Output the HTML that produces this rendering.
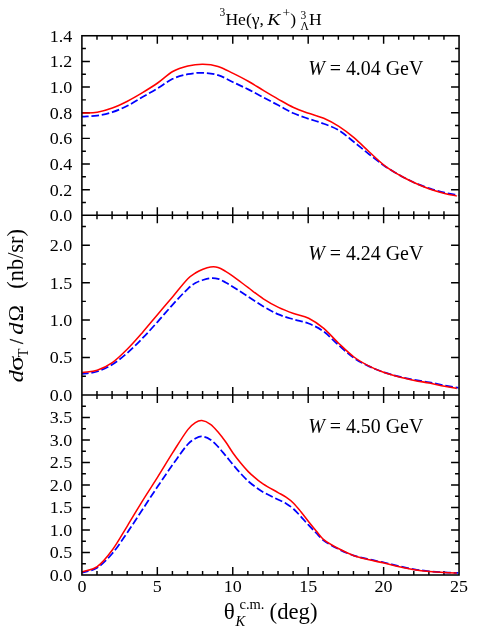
<!DOCTYPE html><html><head><meta charset="utf-8"><style>html,body{margin:0;padding:0;background:#fff}svg{display:block;will-change:transform}text{font-family:"Liberation Serif",serif;fill:#000}</style></head><body>
<svg width="491" height="638" viewBox="0 0 491 638">
<rect width="491" height="638" fill="#fff"/>
<defs><clipPath id="cp"><rect x="81.9" y="35.8" width="376.5" height="539.2"/></clipPath><clipPath id="cr"><rect x="81.9" y="35.8" width="374.9" height="539.2"/></clipPath></defs>
<path d="M96.99,35.75 L96.99,39.75 M112.07,35.75 L112.07,39.75 M127.16,35.75 L127.16,39.75 M142.24,35.75 L142.24,39.75 M157.33,35.75 L157.33,43.75 M172.42,35.75 L172.42,39.75 M187.50,35.75 L187.50,39.75 M202.59,35.75 L202.59,39.75 M217.67,35.75 L217.67,39.75 M232.76,35.75 L232.76,43.75 M247.85,35.75 L247.85,39.75 M262.93,35.75 L262.93,39.75 M278.02,35.75 L278.02,39.75 M293.10,35.75 L293.10,39.75 M308.19,35.75 L308.19,43.75 M323.28,35.75 L323.28,39.75 M338.36,35.75 L338.36,39.75 M353.45,35.75 L353.45,39.75 M368.53,35.75 L368.53,39.75 M383.62,35.75 L383.62,43.75 M398.71,35.75 L398.71,39.75 M413.79,35.75 L413.79,39.75 M428.88,35.75 L428.88,39.75 M443.96,35.75 L443.96,39.75 M96.99,211.30 L96.99,219.30 M112.07,211.30 L112.07,219.30 M127.16,211.30 L127.16,219.30 M142.24,211.30 L142.24,219.30 M157.33,207.30 L157.33,223.30 M172.42,211.30 L172.42,219.30 M187.50,211.30 L187.50,219.30 M202.59,211.30 L202.59,219.30 M217.67,211.30 L217.67,219.30 M232.76,207.30 L232.76,223.30 M247.85,211.30 L247.85,219.30 M262.93,211.30 L262.93,219.30 M278.02,211.30 L278.02,219.30 M293.10,211.30 L293.10,219.30 M308.19,207.30 L308.19,223.30 M323.28,211.30 L323.28,219.30 M338.36,211.30 L338.36,219.30 M353.45,211.30 L353.45,219.30 M368.53,211.30 L368.53,219.30 M383.62,207.30 L383.62,223.30 M398.71,211.30 L398.71,219.30 M413.79,211.30 L413.79,219.30 M428.88,211.30 L428.88,219.30 M443.96,211.30 L443.96,219.30 M96.99,390.90 L96.99,398.90 M112.07,390.90 L112.07,398.90 M127.16,390.90 L127.16,398.90 M142.24,390.90 L142.24,398.90 M157.33,386.90 L157.33,402.90 M172.42,390.90 L172.42,398.90 M187.50,390.90 L187.50,398.90 M202.59,390.90 L202.59,398.90 M217.67,390.90 L217.67,398.90 M232.76,386.90 L232.76,402.90 M247.85,390.90 L247.85,398.90 M262.93,390.90 L262.93,398.90 M278.02,390.90 L278.02,398.90 M293.10,390.90 L293.10,398.90 M308.19,386.90 L308.19,402.90 M323.28,390.90 L323.28,398.90 M338.36,390.90 L338.36,398.90 M353.45,390.90 L353.45,398.90 M368.53,390.90 L368.53,398.90 M383.62,386.90 L383.62,402.90 M398.71,390.90 L398.71,398.90 M413.79,390.90 L413.79,398.90 M428.88,390.90 L428.88,398.90 M443.96,390.90 L443.96,398.90 M96.99,571.00 L96.99,575.00 M112.07,571.00 L112.07,575.00 M127.16,571.00 L127.16,575.00 M142.24,571.00 L142.24,575.00 M157.33,567.00 L157.33,575.00 M172.42,571.00 L172.42,575.00 M187.50,571.00 L187.50,575.00 M202.59,571.00 L202.59,575.00 M217.67,571.00 L217.67,575.00 M232.76,567.00 L232.76,575.00 M247.85,571.00 L247.85,575.00 M262.93,571.00 L262.93,575.00 M278.02,571.00 L278.02,575.00 M293.10,571.00 L293.10,575.00 M308.19,567.00 L308.19,575.00 M323.28,571.00 L323.28,575.00 M338.36,571.00 L338.36,575.00 M353.45,571.00 L353.45,575.00 M368.53,571.00 L368.53,575.00 M383.62,567.00 L383.62,575.00 M398.71,571.00 L398.71,575.00 M413.79,571.00 L413.79,575.00 M428.88,571.00 L428.88,575.00 M443.96,571.00 L443.96,575.00 M81.90,202.48 L85.90,202.48 M459.05,202.48 L455.05,202.48 M81.90,189.65 L89.90,189.65 M459.05,189.65 L451.05,189.65 M81.90,176.82 L85.90,176.82 M459.05,176.82 L455.05,176.82 M81.90,164.00 L89.90,164.00 M459.05,164.00 L451.05,164.00 M81.90,151.18 L85.90,151.18 M459.05,151.18 L455.05,151.18 M81.90,138.35 L89.90,138.35 M459.05,138.35 L451.05,138.35 M81.90,125.52 L85.90,125.52 M459.05,125.52 L455.05,125.52 M81.90,112.70 L89.90,112.70 M459.05,112.70 L451.05,112.70 M81.90,99.87 L85.90,99.87 M459.05,99.87 L455.05,99.87 M81.90,87.05 L89.90,87.05 M459.05,87.05 L451.05,87.05 M81.90,74.22 L85.90,74.22 M459.05,74.22 L455.05,74.22 M81.90,61.40 L89.90,61.40 M459.05,61.40 L451.05,61.40 M81.90,48.57 L85.90,48.57 M459.05,48.57 L455.05,48.57 M81.90,376.19 L85.90,376.19 M459.05,376.19 L455.05,376.19 M81.90,357.48 L89.90,357.48 M459.05,357.48 L451.05,357.48 M81.90,338.77 L85.90,338.77 M459.05,338.77 L455.05,338.77 M81.90,320.07 L89.90,320.07 M459.05,320.07 L451.05,320.07 M81.90,301.36 L85.90,301.36 M459.05,301.36 L455.05,301.36 M81.90,282.65 L89.90,282.65 M459.05,282.65 L451.05,282.65 M81.90,263.94 L85.90,263.94 M459.05,263.94 L455.05,263.94 M81.90,245.23 L89.90,245.23 M459.05,245.23 L451.05,245.23 M81.90,226.52 L85.90,226.52 M459.05,226.52 L455.05,226.52 M81.90,563.74 L85.90,563.74 M459.05,563.74 L455.05,563.74 M81.90,552.49 L89.90,552.49 M459.05,552.49 L451.05,552.49 M81.90,541.23 L85.90,541.23 M459.05,541.23 L455.05,541.23 M81.90,529.98 L89.90,529.98 M459.05,529.98 L451.05,529.98 M81.90,518.72 L85.90,518.72 M459.05,518.72 L455.05,518.72 M81.90,507.46 L89.90,507.46 M459.05,507.46 L451.05,507.46 M81.90,496.21 L85.90,496.21 M459.05,496.21 L455.05,496.21 M81.90,484.95 L89.90,484.95 M459.05,484.95 L451.05,484.95 M81.90,473.69 L85.90,473.69 M459.05,473.69 L455.05,473.69 M81.90,462.44 L89.90,462.44 M459.05,462.44 L451.05,462.44 M81.90,451.18 L85.90,451.18 M459.05,451.18 L455.05,451.18 M81.90,439.92 L89.90,439.92 M459.05,439.92 L451.05,439.92 M81.90,428.67 L85.90,428.67 M459.05,428.67 L455.05,428.67 M81.90,417.41 L89.90,417.41 M459.05,417.41 L451.05,417.41 M81.90,406.16 L85.90,406.16 M459.05,406.16 L455.05,406.16" stroke="#000" stroke-width="1.45" fill="none"/>
<g clip-path="url(#cp)" fill="none" stroke-linecap="butt" stroke-linejoin="round">
<path d="M82.10,116.70 C87.13,116.33 92.17,116.35 97.20,115.60 C102.24,114.85 107.27,113.83 112.31,112.20 C117.34,110.57 122.38,108.33 127.41,105.80 C132.45,103.27 137.48,99.90 142.52,97.00 C147.55,94.10 152.59,91.43 157.62,88.40 C162.65,85.37 167.69,81.17 172.72,78.80 C177.76,76.43 182.79,75.20 187.83,74.20 C192.86,73.20 197.90,72.65 202.93,72.80 C207.97,72.95 213.00,73.53 218.04,75.10 C223.07,76.67 228.11,79.82 233.14,82.20 C238.17,84.58 243.21,86.87 248.24,89.40 C253.28,91.93 258.31,94.75 263.35,97.40 C268.38,100.05 273.42,102.65 278.45,105.30 C283.49,107.95 288.52,111.05 293.56,113.30 C298.59,115.55 303.63,117.07 308.66,118.80 C313.69,120.53 318.73,121.77 323.76,123.70 C328.80,125.63 333.83,127.35 338.87,130.40 C343.90,133.45 348.94,138.03 353.97,142.00 C359.01,145.97 364.04,150.25 369.08,154.20 C374.11,158.15 379.15,162.23 384.18,165.70 C389.21,169.17 394.25,172.17 399.28,175.00 C404.32,177.83 409.35,180.47 414.39,182.70 C419.42,184.93 424.46,186.73 429.49,188.40 C434.53,190.07 439.56,191.52 444.60,192.70 C449.63,193.88 454.67,194.57 459.70,195.50" stroke="#0000ff" stroke-width="1.75" stroke-dasharray="7.65 2.8" stroke-dashoffset="1.1"/>
<path d="M82.10,113.10 C87.13,112.80 92.17,113.05 97.20,112.20 C102.24,111.35 107.27,109.83 112.31,108.00 C117.34,106.17 122.38,103.77 127.41,101.20 C132.45,98.63 137.48,95.63 142.52,92.60 C147.55,89.57 152.59,86.52 157.62,83.00 C162.65,79.48 167.69,74.33 172.72,71.50 C177.76,68.67 182.79,67.22 187.83,66.00 C192.86,64.78 197.90,64.13 202.93,64.20 C207.97,64.27 213.00,64.87 218.04,66.40 C223.07,67.93 228.11,70.93 233.14,73.40 C238.17,75.87 243.21,78.37 248.24,81.20 C253.28,84.03 258.31,87.38 263.35,90.40 C268.38,93.42 273.42,96.45 278.45,99.30 C283.49,102.15 288.52,105.17 293.56,107.50 C298.59,109.83 303.63,111.50 308.66,113.30 C313.69,115.10 318.73,116.12 323.76,118.30 C328.80,120.48 333.83,123.17 338.87,126.40 C343.90,129.63 348.94,133.47 353.97,137.70 C359.01,141.93 364.04,147.20 369.08,151.80 C374.11,156.40 379.15,161.43 384.18,165.30 C389.21,169.17 394.25,172.08 399.28,175.00 C404.32,177.92 409.35,180.47 414.39,182.80 C419.42,185.13 424.46,187.23 429.49,189.00 C434.53,190.77 439.56,192.15 444.60,193.40 C449.63,194.65 454.67,195.47 459.70,196.50" stroke="#ff0000" stroke-width="1.55" clip-path="url(#cr)"/>
<path d="M82.10,373.90 C87.13,373.10 92.17,373.07 97.20,371.50 C102.24,369.93 107.27,367.60 112.31,364.50 C117.34,361.40 122.38,357.28 127.41,352.90 C132.45,348.52 137.48,343.38 142.52,338.20 C147.55,333.02 152.59,327.40 157.62,321.80 C162.65,316.20 167.69,310.10 172.72,304.60 C177.76,299.10 182.79,293.60 187.83,288.80 C190.35,286.40 192.86,284.47 195.38,283.00 C197.90,281.53 200.41,280.80 202.93,280.00 C205.45,279.20 207.97,278.40 210.48,278.20 C213.00,278.00 215.52,278.10 218.04,278.80 C220.55,279.50 223.07,281.05 225.59,282.40 C228.11,283.75 230.62,285.31 233.14,286.90 C238.17,290.08 243.21,293.45 248.24,296.70 C253.28,299.95 258.31,303.45 263.35,306.40 C268.38,309.35 273.42,312.23 278.45,314.40 C283.49,316.57 288.52,317.88 293.56,319.40 C298.59,320.92 303.63,321.47 308.66,323.50 C313.69,325.53 318.73,327.95 323.76,331.60 C328.80,335.25 333.83,341.00 338.87,345.40 C343.90,349.80 348.94,354.50 353.97,358.00 C359.01,361.50 364.04,364.00 369.08,366.40 C374.11,368.80 379.15,370.70 384.18,372.40 C389.21,374.10 394.25,375.35 399.28,376.60 C404.32,377.85 409.35,378.95 414.39,379.90 C419.42,380.85 424.46,381.38 429.49,382.30 C434.53,383.22 439.56,384.43 444.60,385.40 C449.63,386.37 454.67,387.20 459.70,388.10" stroke="#0000ff" stroke-width="1.75" stroke-dasharray="7.65 2.8" stroke-dashoffset="1.1"/>
<path d="M82.10,372.60 C87.13,371.80 92.17,371.87 97.20,370.20 C102.24,368.53 107.27,366.13 112.31,362.60 C117.34,359.07 122.38,354.03 127.41,349.00 C132.45,343.97 137.48,338.15 142.52,332.40 C147.55,326.65 152.59,320.45 157.62,314.50 C162.65,308.55 167.69,302.67 172.72,296.70 C177.76,290.73 182.79,283.97 187.83,278.70 C190.35,276.07 192.86,274.58 195.38,273.00 C197.90,271.42 200.41,270.20 202.93,269.20 C205.45,268.20 207.97,267.30 210.48,267.00 C213.00,266.70 215.52,266.68 218.04,267.40 C220.55,268.12 223.07,269.82 225.59,271.30 C228.11,272.78 230.62,274.48 233.14,276.30 C238.17,279.94 243.21,283.95 248.24,287.70 C253.28,291.45 258.31,295.52 263.35,298.80 C268.38,302.08 273.42,304.95 278.45,307.40 C283.49,309.85 288.52,311.70 293.56,313.50 C298.59,315.30 303.63,315.72 308.66,318.20 C313.69,320.68 318.73,324.18 323.76,328.40 C328.80,332.62 333.83,338.73 338.87,343.50 C343.90,348.27 348.94,353.23 353.97,357.00 C359.01,360.77 364.04,363.52 369.08,366.10 C374.11,368.68 379.15,370.68 384.18,372.50 C389.21,374.32 394.25,375.68 399.28,377.00 C404.32,378.32 409.35,379.38 414.39,380.40 C419.42,381.42 424.46,382.13 429.49,383.10 C434.53,384.07 439.56,385.23 444.60,386.20 C449.63,387.17 454.67,388.00 459.70,388.90" stroke="#ff0000" stroke-width="1.55" clip-path="url(#cr)"/>
<path d="M82.10,572.60 C87.13,570.97 92.17,570.88 97.20,567.70 C102.24,564.52 107.27,559.38 112.31,553.50 C117.34,547.62 122.38,539.73 127.41,532.40 C132.45,525.07 137.48,517.13 142.52,509.50 C147.55,501.87 152.59,494.08 157.62,486.60 C162.65,479.12 167.69,471.67 172.72,464.60 C177.76,457.53 182.79,450.00 187.83,444.20 C190.35,441.30 192.86,439.88 195.38,438.50 C197.54,437.31 199.71,436.33 201.87,436.50 C204.74,436.73 207.61,437.89 210.48,439.70 C213.00,441.29 215.52,444.05 218.04,446.70 C220.55,449.35 223.07,452.58 225.59,455.60 C228.11,458.62 230.62,461.82 233.14,464.80 C235.66,467.78 238.17,470.77 240.69,473.50 C243.21,476.23 245.73,478.92 248.24,481.20 C250.76,483.48 253.28,485.37 255.80,487.20 C258.31,489.03 260.83,490.80 263.35,492.20 C268.38,495.00 273.42,497.31 278.45,499.80 C280.97,501.04 283.49,501.87 286.00,503.40 C288.52,504.93 291.04,506.77 293.56,509.00 C296.07,511.23 298.59,514.10 301.11,516.80 C303.63,519.50 306.14,522.50 308.66,525.20 C311.18,527.90 313.69,530.43 316.21,533.00 C318.73,535.57 321.25,538.79 323.76,540.60 C328.80,544.22 333.83,546.80 338.87,549.30 C343.90,551.80 348.94,553.92 353.97,555.60 C359.01,557.28 364.04,558.25 369.08,559.40 C374.11,560.55 379.15,561.37 384.18,562.50 C389.21,563.63 394.25,565.07 399.28,566.20 C404.32,567.33 409.35,568.45 414.39,569.30 C419.42,570.15 424.46,570.78 429.49,571.30 C434.53,571.82 439.56,572.12 444.60,572.40 C449.63,572.68 454.67,572.80 459.70,573.00" stroke="#0000ff" stroke-width="1.75" stroke-dasharray="7.7 2.84" stroke-dashoffset="1.1"/>
<path d="M82.10,572.00 C87.13,570.20 92.17,570.27 97.20,566.60 C102.24,562.93 107.27,556.80 112.31,550.00 C117.34,543.20 122.38,534.00 127.41,525.80 C132.45,517.60 137.48,508.92 142.52,500.80 C147.55,492.68 152.59,485.12 157.62,477.10 C162.65,469.08 167.69,460.62 172.72,452.70 C177.76,444.78 182.79,436.27 187.83,429.60 C190.35,426.27 192.86,424.31 195.38,422.70 C197.54,421.31 199.71,420.37 201.87,420.60 C204.74,420.90 207.61,422.28 210.48,424.30 C213.00,426.08 215.52,429.08 218.04,432.00 C220.55,434.92 223.07,438.27 225.59,441.80 C228.11,445.33 230.62,449.67 233.14,453.20 C235.66,456.73 238.17,459.93 240.69,463.00 C243.21,466.07 245.73,469.03 248.24,471.60 C250.76,474.17 253.28,476.30 255.80,478.40 C258.31,480.50 260.83,482.60 263.35,484.20 C268.38,487.40 273.42,489.91 278.45,492.80 C280.97,494.24 283.49,495.47 286.00,497.20 C288.52,498.93 291.04,500.73 293.56,503.20 C296.07,505.67 298.59,508.90 301.11,512.00 C303.63,515.10 306.14,518.63 308.66,521.80 C311.18,524.97 313.69,528.03 316.21,531.00 C318.73,533.97 321.25,537.62 323.76,539.60 C328.80,543.56 333.83,546.12 338.87,548.80 C343.90,551.48 348.94,553.87 353.97,555.70 C359.01,557.53 364.04,558.57 369.08,559.80 C374.11,561.03 379.15,561.93 384.18,563.10 C389.21,564.27 394.25,565.68 399.28,566.80 C404.32,567.92 409.35,569.00 414.39,569.80 C419.42,570.60 424.46,571.13 429.49,571.60 C434.53,572.07 439.56,572.35 444.60,572.60 C449.63,572.85 454.67,572.93 459.70,573.10" stroke="#ff0000" stroke-width="1.55" clip-path="url(#cr)"/>
</g>
<line x1="81.90" y1="215.30" x2="459.05" y2="215.30" stroke="#000" stroke-width="1.55"/>
<line x1="81.90" y1="394.90" x2="459.05" y2="394.90" stroke="#000" stroke-width="1.55"/>
<rect x="81.90" y="35.75" width="377.15" height="539.25" fill="none" stroke="#000" stroke-width="1.55"/>
<text transform="translate(72.2,221.30) scale(1,0.98)" font-size="18.0" text-anchor="end">0.0</text>
<text transform="translate(72.2,195.65) scale(1,0.98)" font-size="18.0" text-anchor="end">0.2</text>
<text transform="translate(72.2,170.00) scale(1,0.98)" font-size="18.0" text-anchor="end">0.4</text>
<text transform="translate(72.2,144.35) scale(1,0.98)" font-size="18.0" text-anchor="end">0.6</text>
<text transform="translate(72.2,118.70) scale(1,0.98)" font-size="18.0" text-anchor="end">0.8</text>
<text transform="translate(72.2,93.05) scale(1,0.98)" font-size="18.0" text-anchor="end">1.0</text>
<text transform="translate(72.2,67.40) scale(1,0.98)" font-size="18.0" text-anchor="end">1.2</text>
<text transform="translate(72.2,41.75) scale(1,0.98)" font-size="18.0" text-anchor="end">1.4</text>
<text transform="translate(72.2,400.90) scale(1,0.98)" font-size="18.0" text-anchor="end">0.0</text>
<text transform="translate(72.2,363.48) scale(1,0.98)" font-size="18.0" text-anchor="end">0.5</text>
<text transform="translate(72.2,326.07) scale(1,0.98)" font-size="18.0" text-anchor="end">1.0</text>
<text transform="translate(72.2,288.65) scale(1,0.98)" font-size="18.0" text-anchor="end">1.5</text>
<text transform="translate(72.2,251.23) scale(1,0.98)" font-size="18.0" text-anchor="end">2.0</text>
<text transform="translate(72.2,581.00) scale(1,0.98)" font-size="18.0" text-anchor="end">0.0</text>
<text transform="translate(72.2,558.49) scale(1,0.98)" font-size="18.0" text-anchor="end">0.5</text>
<text transform="translate(72.2,535.98) scale(1,0.98)" font-size="18.0" text-anchor="end">1.0</text>
<text transform="translate(72.2,513.46) scale(1,0.98)" font-size="18.0" text-anchor="end">1.5</text>
<text transform="translate(72.2,490.95) scale(1,0.98)" font-size="18.0" text-anchor="end">2.0</text>
<text transform="translate(72.2,468.44) scale(1,0.98)" font-size="18.0" text-anchor="end">2.5</text>
<text transform="translate(72.2,445.92) scale(1,0.98)" font-size="18.0" text-anchor="end">3.0</text>
<text transform="translate(72.2,423.41) scale(1,0.98)" font-size="18.0" text-anchor="end">3.5</text>
<text transform="translate(81.90,592.3) scale(1,0.98)" font-size="18.0" text-anchor="middle">0</text>
<text transform="translate(157.33,592.3) scale(1,0.98)" font-size="18.0" text-anchor="middle">5</text>
<text transform="translate(232.76,592.3) scale(1,0.98)" font-size="18.0" text-anchor="middle">10</text>
<text transform="translate(308.19,592.3) scale(1,0.98)" font-size="18.0" text-anchor="middle">15</text>
<text transform="translate(383.62,592.3) scale(1,0.98)" font-size="18.0" text-anchor="middle">20</text>
<text transform="translate(459.05,592.3) scale(1,0.98)" font-size="18.0" text-anchor="middle">25</text>
<text x="308.2" y="75.0" font-size="19.9"><tspan font-style="italic">W</tspan> = 4.04 GeV</text>
<text x="308.2" y="259.5" font-size="19.9"><tspan font-style="italic">W</tspan> = 4.24 GeV</text>
<text x="308.2" y="433.4" font-size="19.9"><tspan font-style="italic">W</tspan> = 4.50 GeV</text>
<text x="219.5" y="15.7" font-size="11.5">3</text>
<text x="225.4" y="25" font-size="17.6">He(γ,</text>
<text transform="translate(267.3,25) scale(1.13,1)" font-size="17.3" font-style="italic">K</text>
<text x="282.6" y="17" font-size="13.5">+</text>
<text x="290.3" y="25" font-size="17.6">)</text>
<text x="300.5" y="18.6" font-size="11.5">3</text>
<text x="300.5" y="29.6" font-size="11.5">Λ</text>
<text x="309" y="25" font-size="17.6">H</text>
<text x="223.8" y="619.2" font-size="23">θ</text>
<text x="235.5" y="626.3" font-size="14.5" font-style="italic">K</text>
<text x="239.5" y="608.5" font-size="14.5">c.m.</text>
<text x="269.6" y="619.3" font-size="22.7">(deg)</text>
<g transform="translate(22.8,381.6) rotate(-90)" font-size="22"><text transform="translate(-0.6,0) scale(1.1,1)" font-style="italic">d</text><text transform="translate(10.6,0) scale(1.28,1)">σ</text><text x="24.3" y="5.3" font-size="14.2">T</text><text x="37.6" y="0" font-size="18" stroke="#000" stroke-width="0.35">/</text><text transform="translate(46.8,0) scale(1.12,1)" font-style="italic">d</text><text x="60.2" y="0">Ω</text><text x="92.9" y="0" font-size="22.4">(nb/sr)</text></g>
</svg></body></html>
